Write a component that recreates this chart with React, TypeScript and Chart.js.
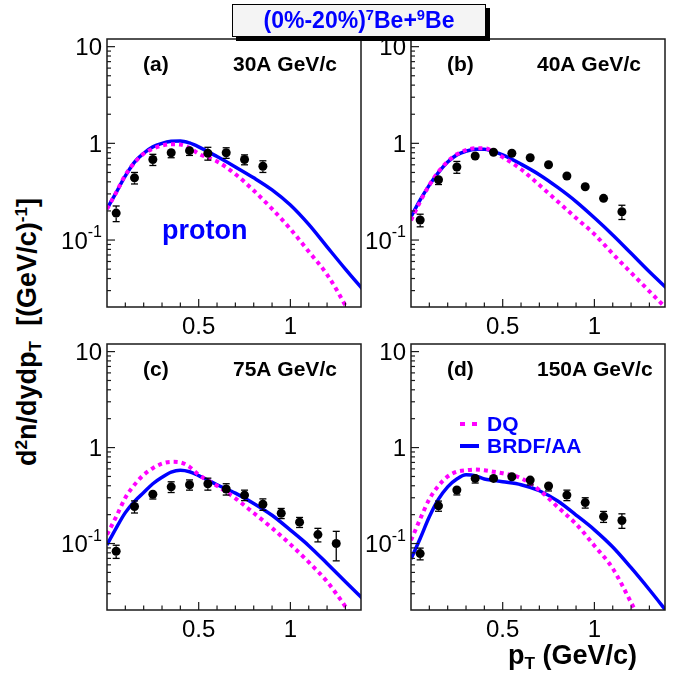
import React, { useEffect, useRef } from 'react';
import { Chart, registerables } from 'chart.js';

Chart.register(...registerables);

const FONT = '"Liberation Sans", Arial, Helvetica, sans-serif';
const BLUE = '#0000ff';
const MAGENTA = '#ff00ff';

// axis ranges shared by all four panels
const X_MIN = 0;
const X_MAX = 1.385;
const Y_MIN = 0.0203;
const Y_MAX = 12;

const xTickValues = [0.1, 0.2, 0.3, 0.4, 0.5, 0.6, 0.7, 0.8, 0.9, 1.0, 1.1, 1.2, 1.3];
const xTickLabels = [
  { v: 0.5, text: '0.5' },
  { v: 1.0, text: '1' },
];

// model curves are sampled on this pT grid (GeV/c)
const curvePt = [0, 0.05, 0.1, 0.15, 0.2, 0.25, 0.3, 0.35, 0.4, 0.45, 0.5, 0.6, 0.7, 0.8, 0.9, 1.0, 1.1, 1.2, 1.3, 1.4];

// (a) 30A GeV/c
const brdf30 = [0.21, 0.31, 0.46, 0.64, 0.79, 0.92, 1.0, 1.05, 1.06, 1.01, 0.92, 0.73, 0.57, 0.44, 0.33, 0.23, 0.145, 0.085, 0.05, 0.03];
const dq30 = [0.21, 0.31, 0.47, 0.63, 0.78, 0.88, 0.95, 0.98, 0.97, 0.9, 0.78, 0.65, 0.48, 0.325, 0.21, 0.13, 0.076, 0.044, 0.021, 0.009];
const pt30 = [0.05, 0.15, 0.25, 0.35, 0.45, 0.55, 0.65, 0.75, 0.85];
const yield30 = [0.19, 0.44, 0.68, 0.8, 0.84, 0.79, 0.8, 0.68, 0.58];
const err30 = [0.035, 0.06, 0.09, 0.09, 0.09, 0.12, 0.1, 0.08, 0.08];

// (b) 40A GeV/c
const brdf40 = [0.174, 0.26, 0.37, 0.5, 0.64, 0.76, 0.83, 0.87, 0.87, 0.82, 0.76, 0.61, 0.474, 0.35, 0.25, 0.17, 0.113, 0.073, 0.047, 0.031];
const dq40 = [0.16, 0.25, 0.37, 0.51, 0.65, 0.77, 0.85, 0.89, 0.89, 0.82, 0.72, 0.54, 0.37, 0.25, 0.169, 0.115, 0.072, 0.046, 0.0295, 0.019];
const pt40 = [0.05, 0.15, 0.25, 0.35, 0.45, 0.55, 0.65, 0.75, 0.85, 0.95, 1.05, 1.15];
const yield40 = [0.161, 0.42, 0.57, 0.74, 0.81, 0.79, 0.71, 0.6, 0.46, 0.356, 0.27, 0.196];
const err40 = [0.024, 0.045, 0.08, 0.07, 0.05, 0.05, 0.045, 0.04, 0.03, 0.025, 0.02, 0.033];

// (c) 75A GeV/c
const brdf75 = [0.097, 0.145, 0.21, 0.275, 0.34, 0.42, 0.49, 0.555, 0.58, 0.56, 0.51, 0.41, 0.335, 0.262, 0.197, 0.138, 0.095, 0.062, 0.04, 0.026];
const dq75 = [0.124, 0.19, 0.3, 0.41, 0.52, 0.61, 0.68, 0.71, 0.7, 0.63, 0.52, 0.4, 0.296, 0.208, 0.145, 0.098, 0.064, 0.04, 0.022, 0.011];
const pt75 = [0.05, 0.15, 0.25, 0.35, 0.45, 0.55, 0.65, 0.75, 0.85, 0.95, 1.05, 1.15, 1.25];
const yield75 = [0.083, 0.243, 0.326, 0.39, 0.41, 0.42, 0.37, 0.32, 0.257, 0.207, 0.167, 0.124, 0.1];
const err75 = [0.013, 0.035, 0.035, 0.05, 0.05, 0.06, 0.05, 0.04, 0.035, 0.025, 0.02, 0.02, 0.034];

// (d) 150A GeV/c
const brdf150 = [0.069, 0.113, 0.19, 0.29, 0.39, 0.47, 0.52, 0.51, 0.47, 0.455, 0.44, 0.41, 0.355, 0.277, 0.198, 0.139, 0.092, 0.056, 0.033, 0.019];
const dq150 = [0.108, 0.18, 0.29, 0.4, 0.5, 0.56, 0.58, 0.59, 0.58, 0.56, 0.54, 0.48, 0.36, 0.24, 0.16, 0.095, 0.055, 0.0243, 0.01, 0.004];
const pt150 = [0.05, 0.15, 0.25, 0.35, 0.45, 0.55, 0.65, 0.75, 0.85, 0.95, 1.05, 1.15];
const yield150 = [0.0786, 0.247, 0.361, 0.477, 0.477, 0.496, 0.458, 0.398, 0.32, 0.267, 0.191, 0.174];
const err150 = [0.011, 0.03, 0.04, 0.05, 0.045, 0.05, 0.05, 0.045, 0.04, 0.033, 0.025, 0.03];

type PanelDef = {
  tag: string;
  beam: string;
  frame: { left: number; top: number; width: number; height: number };
  brdf: number[];
  dq: number[];
  pt: number[];
  values: number[];
  errors: number[];
  proton?: boolean;
  legend?: boolean;
};

const PAD = { left: 60, right: 10, top: 12, bottom: 40 };

const panels: PanelDef[] = [
  { tag: '(a)', beam: '30A GeV/c', frame: { left: 107, top: 39, width: 254, height: 268 }, brdf: brdf30, dq: dq30, pt: pt30, values: yield30, errors: err30, proton: true },
  { tag: '(b)', beam: '40A GeV/c', frame: { left: 411, top: 39, width: 254, height: 268 }, brdf: brdf40, dq: dq40, pt: pt40, values: yield40, errors: err40 },
  { tag: '(c)', beam: '75A GeV/c', frame: { left: 107, top: 344, width: 254, height: 266 }, brdf: brdf75, dq: dq75, pt: pt75, values: yield75, errors: err75 },
  { tag: '(d)', beam: '150A GeV/c', frame: { left: 411, top: 344, width: 254, height: 266 }, brdf: brdf150, dq: dq150, pt: pt150, values: yield150, errors: err150, legend: true },
];

function line(ctx: CanvasRenderingContext2D, x1: number, y1: number, x2: number, y2: number) {
  ctx.beginPath();
  ctx.moveTo(x1, y1);
  ctx.lineTo(x2, y2);
  ctx.stroke();
}

// ROOT-style frame: inward ticks, tick labels, error bars and panel captions
function makeFramePlugin(def: PanelDef) {
  return {
    id: 'rootFrame',
    afterDatasetsDraw(chart: any) {
      const { ctx, chartArea: a, scales } = chart;
      const xs = scales.x;
      const ys = scales.y;
      ctx.save();

      // error bars on the data points (only the parts outside the marker)
      const meta = chart.getDatasetMeta(0);
      const r = 4.5;
      ctx.strokeStyle = '#000';
      ctx.lineWidth = 1.3;
      meta.data.forEach((el: any, i: number) => {
        const v = def.values[i];
        const e = def.errors[i];
        const yHi = ys.getPixelForValue(v + e);
        const yLo = ys.getPixelForValue(v - e);
        const px = el.x;
        const py = el.y;
        if (yHi < py - r) {
          line(ctx, px, py - r, px, yHi);
          line(ctx, px - 3.5, yHi, px + 3.5, yHi);
        }
        if (yLo > py + r) {
          line(ctx, px, py + r, px, yLo);
          line(ctx, px - 3.5, yLo, px + 3.5, yLo);
        }
      });

      // frame
      ctx.strokeStyle = '#1a1a1a';
      ctx.lineWidth = 1.5;
      ctx.strokeRect(a.left, a.top, a.right - a.left, a.bottom - a.top);

      // y ticks (log decades with 2..9 subdivisions)
      ctx.lineWidth = 1.2;
      for (let k = -2; k <= 1; k++) {
        for (let m = 1; m <= 9; m++) {
          const v = m * Math.pow(10, k);
          if (v < Y_MIN || v > Y_MAX) continue;
          const py = ys.getPixelForValue(v);
          line(ctx, a.left, py, a.left + (m === 1 ? 8 : 4), py);
        }
      }
      // x ticks
      xTickValues.forEach((v) => {
        const px = xs.getPixelForValue(v);
        const major = Math.abs(v - 0.5) < 1e-6 || Math.abs(v - 1) < 1e-6;
        line(ctx, px, a.bottom, px, a.bottom - (major ? 8 : 4.5));
      });

      // tick labels
      ctx.fillStyle = '#000';
      ctx.textBaseline = 'alphabetic';
      ctx.font = `24px ${FONT}`;
      ctx.textAlign = 'center';
      xTickLabels.forEach((t) => {
        ctx.fillText(t.text, xs.getPixelForValue(t.v), a.bottom + 27);
      });
      ctx.textAlign = 'right';
      const rx = a.left - 5;
      ctx.fillText('10', rx, ys.getPixelForValue(10) + 8.6);
      ctx.fillText('1', rx, ys.getPixelForValue(1) + 8.6);
      const p01 = ys.getPixelForValue(0.1);
      ctx.font = `16px ${FONT}`;
      const supW = ctx.measureText('-1').width;
      ctx.fillText('-1', rx, p01 - 3);
      ctx.font = `24px ${FONT}`;
      ctx.fillText('10', rx - supW, p01 + 8.6);

      // panel captions
      ctx.textAlign = 'left';
      ctx.font = `bold 21px ${FONT}`;
      ctx.fillText(def.tag, a.left + 36, a.top + 32);
      ctx.fillText(def.beam, a.left + 126, a.top + 32);

      if (def.proton) {
        ctx.fillStyle = BLUE;
        ctx.font = `bold 27px ${FONT}`;
        ctx.fillText('proton', a.left + 55, a.top + 200);
      }

      if (def.legend) {
        const lx = a.left + 49;
        ctx.strokeStyle = MAGENTA;
        ctx.lineWidth = 4;
        line(ctx, lx, a.top + 80, lx + 5, a.top + 80);
        line(ctx, lx + 12, a.top + 80, lx + 17, a.top + 80);
        ctx.strokeStyle = BLUE;
        line(ctx, lx, a.top + 102, lx + 19, a.top + 102);
        ctx.fillStyle = BLUE;
        ctx.font = `bold 21px ${FONT}`;
        ctx.fillText('DQ', lx + 27, a.top + 87);
        ctx.fillText('BRDF/AA', lx + 27, a.top + 109);
      }
      ctx.restore();
    },
  };
}

function Panel({ def }: { def: PanelDef }) {
  const ref = useRef<HTMLCanvasElement | null>(null);
  const width = def.frame.width + PAD.left + PAD.right;
  const height = def.frame.height + PAD.top + PAD.bottom;

  useEffect(() => {
    if (!ref.current) return;
    const chart = new Chart(ref.current, {
      type: 'line',
      data: {
        datasets: [
          {
            label: 'data',
            data: def.pt.map((x, i) => ({ x, y: def.values[i] })),
            showLine: false,
            pointRadius: 4.5,
            pointBackgroundColor: '#000',
            pointBorderWidth: 0,
            pointStyle: 'circle',
          },
          {
            label: 'DQ',
            data: curvePt.map((x, i) => ({ x, y: def.dq[i] })),
            borderColor: MAGENTA,
            borderWidth: 4,
            borderDash: [4, 4],
            pointRadius: 0,
            cubicInterpolationMode: 'monotone',
            clip: 0,
          },
          {
            label: 'BRDF/AA',
            data: curvePt.map((x, i) => ({ x, y: def.brdf[i] })),
            borderColor: BLUE,
            borderWidth: 3.5,
            pointRadius: 0,
            cubicInterpolationMode: 'monotone',
            clip: 0,
          },
        ] as any,
      },
      options: {
        responsive: false,
        maintainAspectRatio: false,
        animation: false,
        events: [],
        layout: { padding: PAD },
        scales: {
          x: { type: 'linear', display: false, min: X_MIN, max: X_MAX },
          y: { type: 'logarithmic', display: false, min: Y_MIN, max: Y_MAX },
        },
        plugins: {
          legend: { display: false },
          tooltip: { enabled: false },
        },
      },
      plugins: [makeFramePlugin(def)],
    });
    return () => chart.destroy();
  }, [def]);

  return (
    <canvas
      ref={ref}
      width={width}
      height={height}
      style={{
        position: 'absolute',
        left: def.frame.left - PAD.left,
        top: def.frame.top - PAD.top,
        width,
        height,
      }}
    />
  );
}

const supStyle: React.CSSProperties = { fontSize: '0.64em', position: 'relative', top: '-0.55em', verticalAlign: 'baseline' };
const subStyle: React.CSSProperties = { fontSize: '0.64em', position: 'relative', top: '0.3em', verticalAlign: 'baseline' };

export default function App() {
  return (
    <div
      style={{
        position: 'absolute',
        left: 0,
        top: 0,
        width: 683,
        height: 675,
        background: '#fff',
        overflow: 'hidden',
        fontFamily: FONT,
      }}
    >
      {panels.map((p) => (
        <Panel key={p.tag} def={p} />
      ))}

      <div
        style={{
          position: 'absolute',
          left: 232,
          top: 4,
          width: 254,
          height: 33,
          boxSizing: 'border-box',
          border: '1px solid #000',
          background: '#f4f4f4',
          boxShadow: '4px 4px 0 #000',
          display: 'flex',
          alignItems: 'center',
          justifyContent: 'center',
          color: BLUE,
          fontWeight: 'bold',
          fontSize: 23,
          whiteSpace: 'nowrap',
        }}
      >
        <span>
          (0%-20%)<span style={supStyle}>7</span>Be+<span style={supStyle}>9</span>Be
        </span>
      </div>

      <div
        style={{
          position: 'absolute',
          left: 28,
          top: 332,
          transform: 'translate(-50%, -50%) rotate(-90deg)',
          whiteSpace: 'nowrap',
          fontWeight: 'bold',
          fontSize: 27,
          lineHeight: '30px',
          color: '#000',
        }}
      >
        d<span style={supStyle}>2</span>n/dydp<span style={subStyle}>T</span>
        {'\u00a0\u00a0'}[(GeV/c)<span style={supStyle}>-1</span>]
      </div>

      <div
        style={{
          position: 'absolute',
          left: 508,
          top: 642,
          whiteSpace: 'nowrap',
          fontWeight: 'bold',
          fontSize: 27,
          lineHeight: '26px',
          color: '#000',
        }}
      >
        p<span style={subStyle}>T</span> (GeV/c)
      </div>
    </div>
  );
}
